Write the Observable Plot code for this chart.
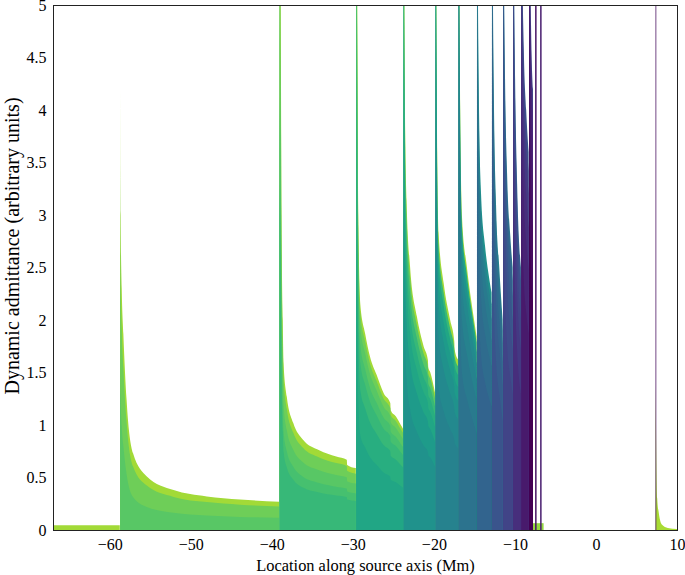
<!DOCTYPE html>
<html>
<head>
<meta charset="utf-8">
<script src="https://cdn.jsdelivr.net/npm/d3@7"></script>
<script src="https://cdn.jsdelivr.net/npm/@observablehq/plot@0.6"></script>
<style>
  html, body { margin: 0; padding: 0; background: #fff; }
  #chart svg, #chart svg text { font-family: "Liberation Serif", "DejaVu Serif", serif !important; }
</style>
</head>
<body>
<div id="chart"></div>
<script>
// ---- data ----
// segment start positions (Mm)
const segStart = [-67, -58.72, -39.05, -29.58, -23.74, -19.79, -16.95, -14.68, -12.83, -11.47, -10.23, -9.21, -8.26, -7.77, 7.36];
// sample offsets from the segment start (Mm)
const segD = [
  [0, 8.24],
  [0, 0.06, 0.2, 0.4, 0.8, 1.6, 3.3, 6.6, 10.7, 14.8, 19.62],
  [0, 0.15, 0.25, 0.4, 0.5, 0.9, 1.7, 2.9, 4.9, 7.0, 8.3, 8.35, 9.42],
  [0, 0.12, 0.25, 0.5, 1.1, 1.7, 2.5, 3.4, 4.2, 4.25, 4.9, 5.5, 5.8],
  [0, 0.1, 0.2, 0.37, 0.8, 1.65, 2.47, 3.0, 3.05, 3.3, 3.9],
  [0, 0.1, 0.2, 0.37, 1.0, 1.8, 2.3, 2.35, 2.8],
  [0, 0.1, 0.2, 0.42, 1.03, 1.85, 2.22],
  [0, 0.1, 0.25, 0.5, 1.0, 1.5, 1.8],
  [0, 0.1, 0.25, 0.5, 0.9, 1.31],
  [0, 0.1, 0.25, 0.5, 0.9, 1.19],
  [0, 0.1, 0.25, 0.5, 0.97],
  [0, 0.1, 0.3, 0.6, 0.9],
  [0, 0.1, 0.25, 0.49],
  [0, 1.31],
  [0, 0.05, 0.2, 0.4, 0.8, 1.5, 2.64]
];
// total (stacked) admittance at those samples
const segTop = [
  [0.045, 0.045],
  [4.2, 3.0, 2.3, 1.87, 1.24, 0.73, 0.51, 0.38, 0.32, 0.29, 0.27],
  [7, 5.0, 3.0, 2.0, 1.59, 1.27, 1.02, 0.86, 0.76, 0.70, 0.67, 0.62, 0.59],
  [7, 5.0, 3.0, 2.15, 1.87, 1.65, 1.48, 1.30, 1.21, 1.14, 1.08, 1.0, 0.96],
  [7, 5.0, 3.8, 3.14, 2.51, 2.03, 1.75, 1.62, 1.55, 1.5, 1.3],
  [7, 5.0, 3.6, 2.83, 2.35, 2.0, 1.8, 1.72, 1.62],
  [7, 5.2, 4.0, 2.98, 2.5, 2.03, 1.84],
  [7, 5.3, 4.0, 3.2, 2.7, 2.4, 2.26],
  [7, 5.3, 4.0, 3.1, 2.5, 2.0],
  [7, 5.5, 4.3, 3.4, 2.8, 2.5],
  [7, 5.5, 4.3, 3.3, 2.5],
  [7, 5.6, 4.6, 4.0, 3.6],
  [7, 5.7, 4.8, 4.2],
  [0.065, 0.065],
  [1.4, 1.0, 0.3, 0.16, 0.05, 0.02, 0.01]
];
// mode colour (viridis position) of each stacked layer, bottom to top
const segLayerTone = [
  [0.86],
  [0.74, 0.78, 0.86],
  [0.67, 0.705, 0.74, 0.78, 0.86],
  [0.59, 0.625, 0.67, 0.705, 0.74, 0.78, 0.86],
  [0.51, 0.545, 0.59, 0.625, 0.67, 0.74, 0.86],
  [0.44, 0.47, 0.51, 0.545, 0.59, 0.67, 0.86],
  [0.38, 0.41, 0.44, 0.47, 0.51, 0.59, 0.86],
  [0.32, 0.35, 0.38, 0.41, 0.44, 0.51],
  [0.26, 0.29, 0.32, 0.35, 0.38, 0.44],
  [0.2, 0.23, 0.26, 0.29, 0.32, 0.38],
  [0.13, 0.165, 0.2, 0.23, 0.26, 0.32],
  [0.07, 0.1, 0.13, 0.165, 0.2, 0.26],
  [0.0, 0.035, 0.07, 0.1, 0.13, 0.2],
  [0.84],
  [0.87]
];
// share of the total carried by each layer, bottom to top
const segShares = [
  [1],
  [0.43, 0.4, 0.17],
  [0.47, 0.12, 0.16, 0.16, 0.09],
  [0.42, 0.2, 0.12, 0.08, 0.08, 0.06, 0.04],
  [0.46, 0.18, 0.11, 0.08, 0.07, 0.06, 0.04],
  [0.48, 0.17, 0.11, 0.08, 0.07, 0.05, 0.04],
  [0.5, 0.17, 0.11, 0.08, 0.06, 0.05, 0.03],
  [0.52, 0.17, 0.11, 0.09, 0.06, 0.05],
  [0.52, 0.17, 0.11, 0.09, 0.06, 0.05],
  [0.52, 0.17, 0.11, 0.09, 0.06, 0.05],
  [0.52, 0.17, 0.11, 0.09, 0.06, 0.05],
  [0.52, 0.17, 0.11, 0.09, 0.06, 0.05],
  [0.52, 0.17, 0.11, 0.09, 0.06, 0.05],
  [1],
  [1]
];
// narrow resonance lines
const lineX = [-7.48, -6.86, 7.33];
const lineTone = [0.05, 0.08, 0.03];
// axis ticks
const xTicks = [-60, -50, -40, -30, -20, -10, 0, 10];
const yTicks = [0, 0.5, 1, 1.5, 2, 2.5, 3, 3.5, 4, 4.5, 5];

// ---- build layer table: each layer drawn from 0 to its cumulative top,
// upper layers first so lower ones paint over them (no seams) ----
const rows = [];
segStart.forEach((x0, k) => {
  const shares = segShares[k];
  const cumTop = [];
  let cum = 0;
  shares.forEach(s => { cum += s; cumTop.push(cum); });
  for (let j = shares.length - 1; j >= 0; j--) {
    segD[k].forEach((d, i) => {
      rows.push({x: x0 + d, y2: cumTop[j] * segTop[k][i], tone: segLayerTone[k][j], key: k + "-" + j});
    });
  }
});
const lines = lineX.map((x, i) => ({x, tone: lineTone[i]}));
const fmt = d => (d < 0 ? "\u2212" + Math.abs(d) : String(d));

const chart = Plot.plot({
  width: 685,
  height: 575,
  marginLeft: 53,
  marginRight: 8,
  marginTop: 5,
  marginBottom: 45,
  style: {fontFamily: "'Liberation Serif', 'DejaVu Serif', serif", fontSize: "16px", background: "#fff", color: "#000"},
  x: {domain: [-67, 10]},
  y: {domain: [0, 5]},
  color: {type: "linear", scheme: "viridis", domain: [0, 1]},
  marks: [
    Plot.areaY(rows, {x: "x", y1: 0, y2: "y2", z: "key", fill: "tone", curve: "monotone-x", clip: true}),
    Plot.ruleX(lines, {x: "x", y1: 0, y2: 5, stroke: "tone", strokeWidth: d => (d.x > 0 ? 1 : 1.5), strokeOpacity: d => (d.x > 0 ? 0.75 : 1), clip: true}),
    Plot.frame({stroke: "#222"}),
    Plot.axisX({ticks: xTicks, tickSize: 0, tickPadding: 8, tickFormat: fmt, fontSize: 16, label: "Location along source axis (Mm)", labelAnchor: "center", labelOffset: 40, labelArrow: "none"}),
    Plot.axisY({ticks: yTicks, tickSize: 0, tickPadding: 7, tickFormat: fmt, fontSize: 16, label: "Dynamic admittance (arbitrary units)", labelAnchor: "center", labelOffset: 49, labelArrow: "none"})
  ]
});
// label sizes and placement as in the reference
d3.select(chart).selectAll('g[aria-label="x-axis label"], g[aria-label="x-axis label"] text').attr("font-size", 16.4);
const yl = d3.select(chart).select('g[aria-label="y-axis label"]');
yl.selectAll("text").attr("font-size", 20);
yl.attr("font-size", 20).attr("transform", (yl.attr("transform") || "") + " translate(0,-22)");
document.getElementById("chart").appendChild(chart);
</script>
</body>
</html>
